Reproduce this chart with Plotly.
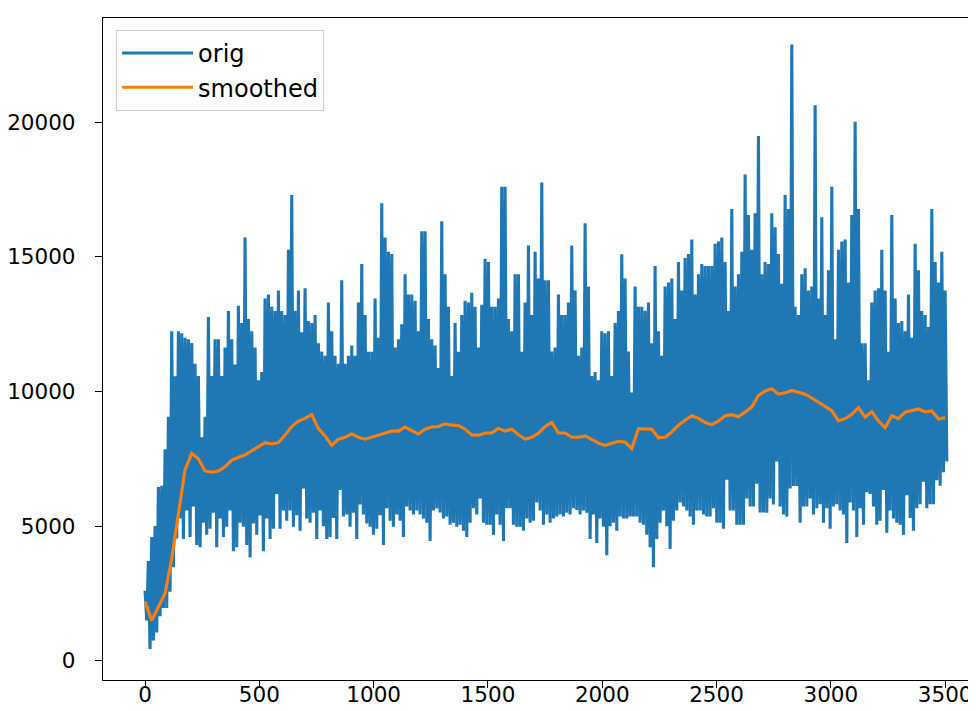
import plotly.graph_objects as go

# ---- data ----
# "orig": noisy series, given as alternating local highs / lows per sample step
orig_hi_a = [2600, 3700, 4600, 5000, 6450, 6500, 7850, 9060, 12240, 10570, 12240, 12160, 12000,
             11940, 11800, 11030, 10570, 8300, 9060, 12770, 10570, 11940, 11940, 10570, 11630,
             12990, 11940, 11000, 13180, 12540, 15720, 12690, 12240, 11630, 10420, 10720, 13450,
             13600, 13150]
orig_lo_a = [1500, 440, 750, 1050, 1650, 1960, 1960, 2560, 3470, 4540, 5280, 4520, 5580, 4600,
             5730, 4300, 4220, 5130, 4680, 4900, 5500, 4220, 5280, 4600, 4980, 5580, 4070, 4220,
             5130, 4980, 4300, 3840, 5100, 4680, 5400, 4070, 5280, 4520, 4900]
orig_hi_b = [12990, 13750, 12990, 12840, 15260, 17300, 12990, 13750, 12200, 13830, 12620, 12540,
             12840, 11790, 11480, 11330, 13300, 12240, 11330, 11030, 14130, 11030, 11330, 11710,
             11330, 13300, 14730, 12840, 11480, 11480, 13450, 12000, 16990, 15720, 15190, 15110,
             11630, 11940, 12500, 14350, 13600]
orig_lo_b = [6190, 4900, 5580, 5200, 5580, 4980, 5400, 4830, 6400, 5280, 5130, 5500, 4520, 5580,
             5000, 4520, 4600, 5300, 4520, 6340, 5360, 5430, 4980, 5500, 4520, 5800, 5430, 5100,
             4980, 4680, 4900, 5400, 4300, 5660, 5200, 4980, 5430, 5200, 4600, 5730, 5580]
orig_hi_c = [13600, 13370, 12240, 15950, 15950, 12690, 11940, 11710, 10870, 16320, 14350, 13150,
             10570, 12540, 11480, 12840, 13370, 13300, 13670, 13150, 11630, 13220, 14930, 14810,
             13150, 13150, 13450, 17600, 17600, 12690, 12240, 14350, 14350, 11480, 13300, 15420,
             12840, 15190, 14200, 17760, 14130]
orig_lo_c = [5430, 5580, 5430, 5280, 5130, 4450, 5580, 5660, 5510, 5280, 5360, 5050, 5130, 4980,
             5050, 4830, 4600, 5130, 5660, 5430, 6030, 5130, 5050, 5050, 4680, 5430, 5050, 4450,
             5660, 5660, 5050, 4980, 4980, 4830, 5280, 5130, 5200, 5880, 5580, 5050, 5430]
orig_hi_d = [14130, 11480, 11630, 13600, 12840, 12840, 13300, 15420, 13750, 11330, 11630, 16250,
             13900, 10570, 10720, 10420, 12240, 12160, 12240, 10570, 12540, 12990, 15100, 14200,
             11480, 9960, 13900, 13150, 13150, 13000, 13300, 11790, 14660, 12240, 11330, 13900,
             14050, 14200, 12690, 14810, 13750]
orig_lo_d = [5130, 5280, 5360, 5430, 5360, 5500, 5430, 5660, 5600, 5430, 5580, 5500, 4520, 5430,
             4370, 5280, 4980, 3920, 5000, 5130, 4830, 5360, 5280, 5280, 5360, 5360, 5360, 5130,
             5050, 4680, 4220, 3470, 4520, 5130, 5580, 5000, 4150, 5200, 5580, 5880, 5730]
orig_hi_e = [14960, 15110, 15640, 13600, 14350, 14730, 14660, 14660, 14660, 15490, 15570, 15720,
             14810, 12990, 16780, 13900, 14350, 15190, 18060, 16550, 15260, 16620, 19490, 14350,
             14810, 14730, 16620, 16100, 15110, 14000, 17300, 16780, 22890, 13150, 12840, 14350,
             14580, 13750, 13900, 20630, 13450]
orig_lo_e = [5580, 5360, 5050, 5580, 5580, 5430, 5360, 5360, 5660, 5130, 5130, 4900, 6720, 5580,
             5580, 5050, 5050, 5050, 6030, 5730, 5730, 6570, 5510, 5510, 5500, 6030, 5800, 7400,
             5730, 5430, 5360, 6400, 6490, 6490, 5130, 5730, 5730, 6030, 5430, 5660, 5810]
orig_hi_f = [16470, 12840, 14500, 17600, 11940, 15260, 15570, 15640, 14050, 16550, 20020, 16780,
             11790, 11790, 10420, 13300, 13750, 13830, 15260, 13750, 11480, 16550, 13450, 12540,
             12620, 12240, 13600, 12000, 15490, 14500, 12990, 12840, 12390, 16780, 14810, 14050,
             15190, 13750]
orig_lo_f = [5130, 5660, 4900, 5730, 5810, 5580, 5430, 4370, 5880, 5580, 4600, 5660, 5050, 6260,
             6190, 5730, 5050, 5200, 6340, 4750, 5580, 5280, 5130, 5050, 4680, 6150, 5300, 4830,
             5660, 5810, 6650, 5660, 5810, 5810, 6700, 6500, 7000, 7400]

# "smoothed": moving-average series
smoothed_a = [2200, 1500, 2000, 2500, 3800, 5400, 7100, 7700, 7500, 7050, 7000, 7050, 7200, 7450,
              7550, 7650, 7800, 7950, 8100, 8050]
smoothed_b = [8100, 8380, 8700, 8900, 9000, 9140, 8620, 8350, 8000, 8230, 8300, 8430, 8300, 8230,
              8300, 8380, 8460, 8530, 8530, 8680, 8550]
smoothed_c = [8420, 8600, 8680, 8700, 8800, 8750, 8740, 8600, 8390, 8380, 8460, 8460, 8630, 8530,
              8600, 8390, 8230, 8300, 8450, 8700]
smoothed_d = [8850, 8460, 8460, 8300, 8300, 8350, 8230, 8080, 8000, 8080, 8150, 8120, 7880, 8620,
              8600, 8600, 8280, 8300, 8500, 8750, 8930]
smoothed_e = [9100, 9000, 8850, 8770, 8900, 9100, 9140, 9060, 9250, 9420, 9850, 10020, 10100, 9900,
              9950, 10040, 9970, 9900, 9760, 9600]
smoothed_f = [9450, 9290, 8910, 8990, 9150, 9400, 9050, 9250, 8900, 8650, 9100, 8990, 9230, 9290,
              9350, 9240, 9280, 8980, 9030]

x_span = 3500
x_ticks = [0, 500, 1000, 1500, 2000, 2500, 3000, 3500]
y_ticks = [0, 5000, 10000, 15000, 20000]

# ---- assemble series ----
orig_hi = orig_hi_a + orig_hi_b + orig_hi_c + orig_hi_d + orig_hi_e + orig_hi_f
orig_lo = orig_lo_a + orig_lo_b + orig_lo_c + orig_lo_d + orig_lo_e + orig_lo_f
smoothed = smoothed_a + smoothed_b + smoothed_c + smoothed_d + smoothed_e + smoothed_f

n = len(orig_hi)
step = x_span / (n - 1)
orig_x, orig_y = [], []
for i in range(n):
    orig_x.append(i * step)
    orig_y.append(orig_hi[i])
    orig_x.append(i * step + step / 2)
    orig_y.append(orig_lo[i])

m = len(smoothed)
sm_step = x_span / (m - 1)
sm_x = [i * sm_step for i in range(m)]

BLUE = "#1f77b4"
ORANGE = "#ff7f0e"
FONT = "DejaVu Sans"

fig = go.Figure()
fig.add_trace(go.Scatter(x=orig_x, y=orig_y, mode="lines", name="orig",
                         line=dict(color=BLUE, width=3.1)))
fig.add_trace(go.Scatter(x=sm_x, y=smoothed, mode="lines", name="smoothed",
                         line=dict(color=ORANGE, width=3.1)))

# the page body has an 8px default margin, so the figure is sized/placed to compensate
fig.update_layout(
    width=968, height=703, autosize=False,
    margin=dict(l=95, r=0, t=10, b=31, autoexpand=False),
    paper_bgcolor="white", plot_bgcolor="white",
    font=dict(family=FONT, size=21.5, color="#000000"),
    showlegend=True,
    legend=dict(
        x=0.015, y=0.982, xanchor="left", yanchor="top",
        bgcolor="rgba(255,255,255,0.8)", bordercolor="#cccccc", borderwidth=1,
        font=dict(family=FONT, size=24, color="#000000"),
        itemwidth=71, tracegroupgap=0,
    ),
    xaxis=dict(
        range=[-184, 3635], tickvals=x_ticks, tickformat="d",
        showgrid=False, zeroline=False, automargin=False,
        showline=True, linecolor="black", linewidth=1.3, mirror=True,
        ticks="outside", ticklen=7, tickwidth=1.3, tickcolor="black",
        ticklabelstandoff=-12, ticklabeloverflow="allow",
    ),
    yaxis=dict(
        range=[-714, 23870], tickvals=y_ticks, tickformat="d",
        showgrid=False, zeroline=False, automargin=False,
        showline=True, linecolor="black", linewidth=1.3, mirror=False,
        ticks="outside", ticklen=7, tickwidth=1.3, tickcolor="black",
        ticklabelstandoff=15, ticklabeloverflow="allow",
    ),
)

fig.write_html("out.html")
